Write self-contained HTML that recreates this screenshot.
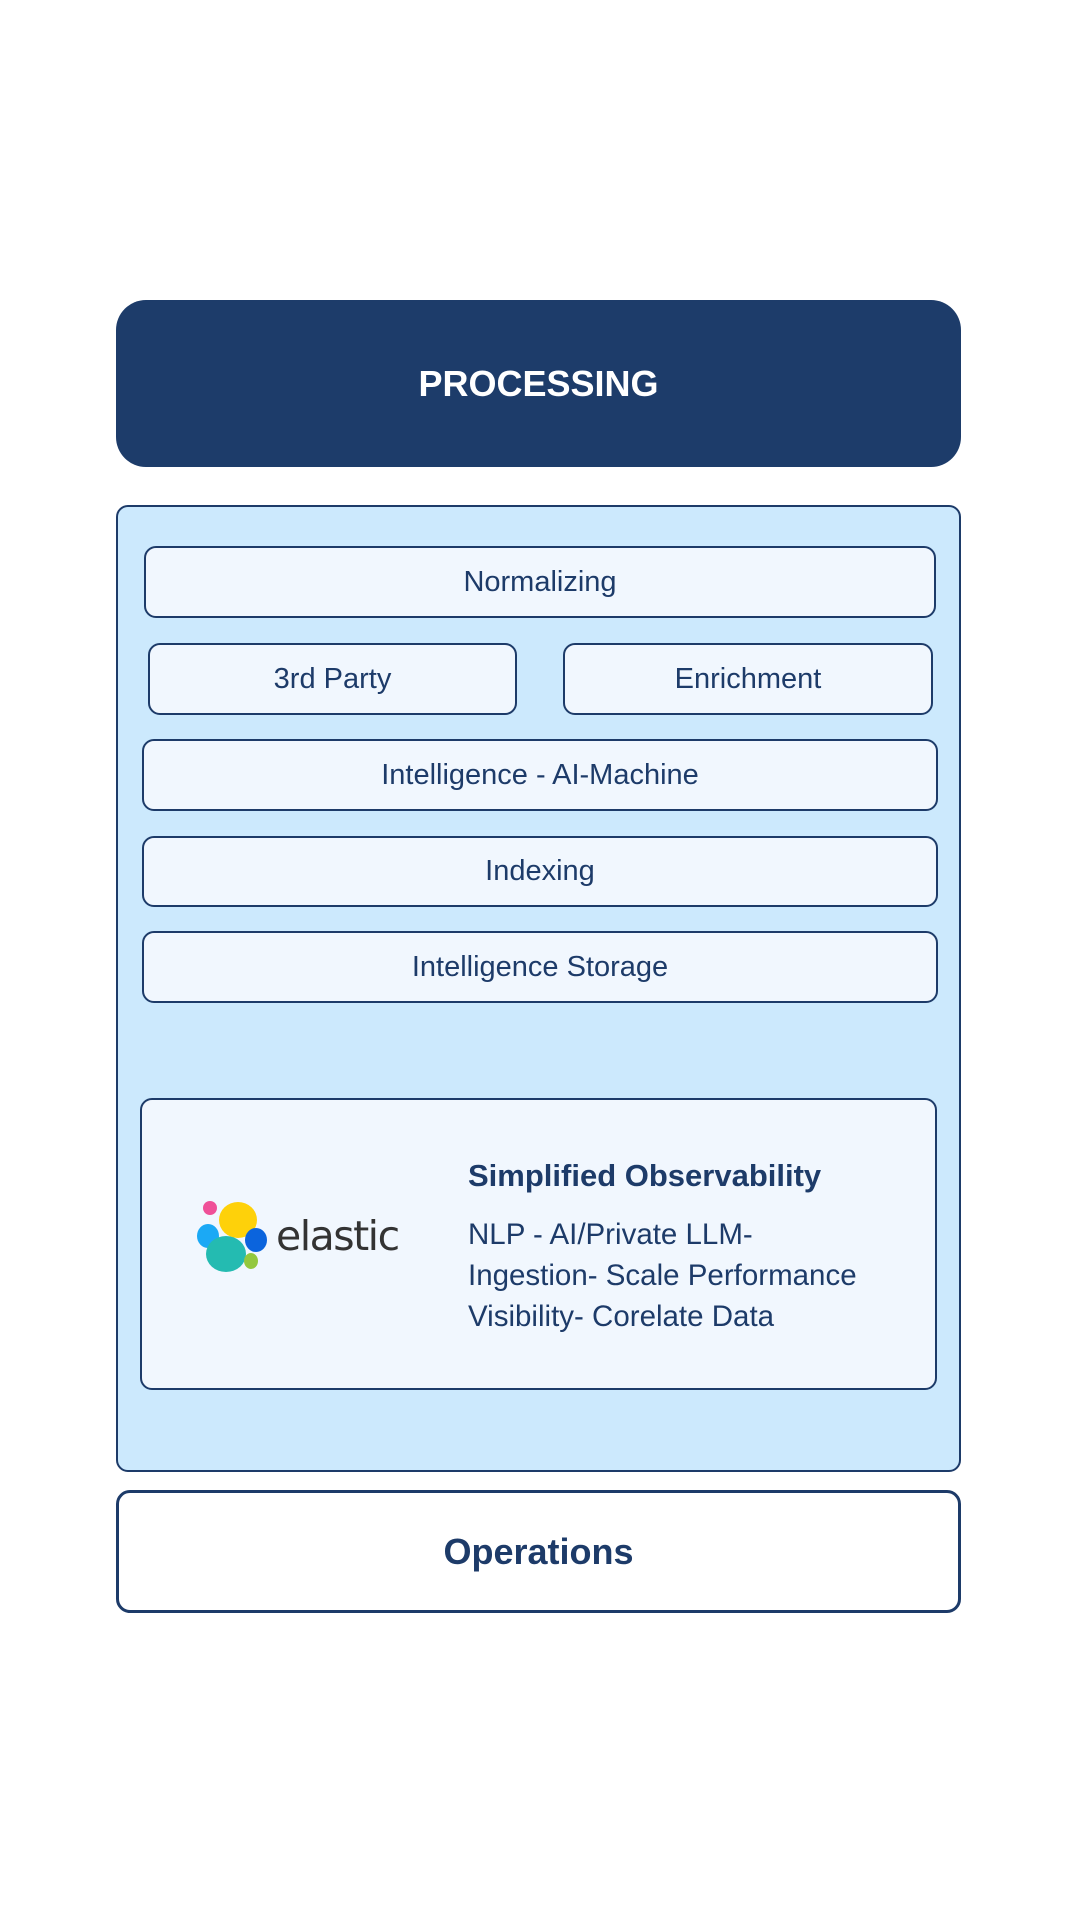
<!DOCTYPE html>
<html><head><style>
body{margin:0;width:1080px;height:1920px;background:#fff;position:relative;font-family:"Liberation Sans",sans-serif;color:#1d3b69;overflow:hidden}
.a{position:absolute;box-sizing:border-box;display:flex;align-items:center;justify-content:center}
.b{border:2px solid #1d3b69;background:#f1f7fe;border-radius:12px;font-size:29px}
</style></head><body>
<div class="a" style="left:116px;top:300px;width:845px;height:167px;background:#1d3c6a;border-radius:30px;color:#fff;font-weight:bold;font-size:36px">PROCESSING</div>
<div class="a" style="left:116px;top:505px;width:845px;height:967px;background:#cce9fd;border:2px solid #1d3b69;border-radius:12px"></div>
<div class="a b" style="left:144px;top:546px;width:792px;height:72px">Normalizing</div>
<div class="a b" style="left:148px;top:643px;width:369px;height:72px">3rd Party</div>
<div class="a b" style="left:563px;top:643px;width:370px;height:72px">Enrichment</div>
<div class="a b" style="left:142px;top:739px;width:796px;height:72px">Intelligence - AI-Machine</div>
<div class="a b" style="left:142px;top:836px;width:796px;height:71px">Indexing</div>
<div class="a b" style="left:142px;top:931px;width:796px;height:72px">Intelligence Storage</div>
<div class="a b" style="left:140px;top:1098px;width:797px;height:292px"></div>
<svg style="position:absolute;left:196px;top:1200px" width="72" height="74" viewBox="0 0 72 74">
<ellipse cx="14" cy="8" rx="7" ry="7" fill="#ef5098"/>
<ellipse cx="42" cy="20" rx="19" ry="18" fill="#fed10a"/>
<ellipse cx="12" cy="36" rx="11" ry="12" fill="#1ba9f5"/>
<ellipse cx="60" cy="40" rx="11" ry="12" fill="#0b64dd"/>
<ellipse cx="30" cy="54" rx="20" ry="18" fill="#24bbb1"/>
<ellipse cx="55" cy="61" rx="7" ry="8" fill="#93c83e"/>
</svg>
<div style="position:absolute;left:276px;top:1212px;font-size:41px;color:#333;font-family:'DejaVu Sans',sans-serif;letter-spacing:-1.5px">elastic</div>
<div style="position:absolute;left:468px;top:1158px;font-size:31px;font-weight:bold;white-space:nowrap">Simplified Observability</div>
<div style="position:absolute;left:468px;top:1214px;font-size:29.5px;line-height:41px;white-space:nowrap">NLP - AI/Private LLM-<br>Ingestion- Scale Performance<br>Visibility- Corelate Data</div>
<div class="a" style="left:116px;top:1490px;width:845px;height:123px;border:3px solid #1d3b69;border-radius:14px;background:#fff;font-weight:bold;font-size:36px">Operations</div>
</body></html>
